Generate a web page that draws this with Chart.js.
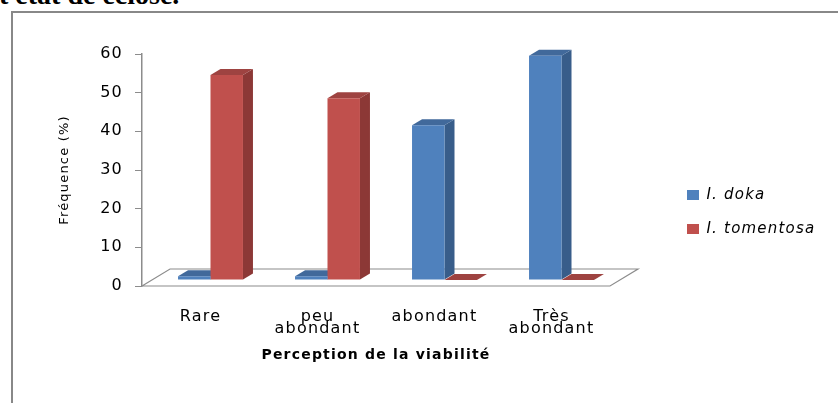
<!DOCTYPE html>
<html>
<head>
<meta charset="utf-8">
<script src="https://cdn.jsdelivr.net/npm/chart.js@4.4.0/dist/chart.umd.min.js"></script>
<style>
  html, body { margin: 0; padding: 0; background: #fff; width: 838px; height: 403px; overflow: hidden; }
  #caption { position: absolute; left: -1px; top: -19px; font: bold 28px "Liberation Serif"; line-height: 28px; white-space: nowrap; color: #000; }
  #frame { position: absolute; left: 11px; top: 11px; width: 840px; height: 400px; border-left: 2px solid #888; border-top: 2px solid #888; }
  #wrap { position: absolute; left: 0; top: 0; width: 838px; height: 403px; }
</style>
</head>
<body>
<div id="caption">t état de éclose.</div>
<div id="frame"></div>
<div id="wrap"><canvas id="chart" width="838" height="403"></canvas></div>
<script>
// data
const categories = [['Rare'], ['peu', 'abondant'], ['abondant'], ['Très', 'abondant']];
const dokaValues = [1, 1, 40, 58];
const tomentosaValues = [53, 47, 0, 0];
const yTicks = [0, 10, 20, 30, 40, 50, 60];

const FONT = 'DejaVu Sans';
const SPACING = '1.2px';               // the original text is stretched sideways
const depth = { dx: 10, dy: -6 };       // bar depth
const floorDepth = { dx: 28, dy: -17 }; // floor depth
const LEGEND_WIDTH = 170;

// fake 3d: floor + side/top faces, bars pushed back a bit
const bar3d = {
  id: 'bar3d',
  beforeUpdate(chart) {
    chart.ctx.letterSpacing = SPACING;
    const legend = chart.legend;
    if (legend && !legend._fixedWidth) {
      // measureText ignores the letter spacing, so the legend comes out too narrow
      const fit = legend.fit;
      legend.fit = function () {
        fit.call(this);
        this.width = LEGEND_WIDTH;
      };
      legend._fixedWidth = true;
    }
  },
  beforeDraw(chart) {
    chart.ctx.letterSpacing = SPACING;
  },
  beforeDatasetsDraw(chart) {
    const { ctx } = chart;
    const x = chart.scales.x, y = chart.scales.y;
    const y0 = y.getPixelForValue(0);

    ctx.save();
    ctx.strokeStyle = '#8c8c8c';
    ctx.lineWidth = 1.2;
    ctx.beginPath();
    ctx.moveTo(x.left, y0);
    ctx.lineTo(x.left + floorDepth.dx, y0 + floorDepth.dy);
    ctx.lineTo(x.right + floorDepth.dx, y0 + floorDepth.dy);
    ctx.lineTo(x.right, y0);
    ctx.closePath();
    ctx.stroke();
    ctx.restore();

    ctx.save();
    ctx.translate(depth.dx, depth.dy);
    chart.data.datasets.forEach((ds, i) => {
      chart.getDatasetMeta(i).data.forEach(el => {
        const p = el.getProps(['x', 'y', 'base', 'width'], true);
        const l = p.x - p.width / 2, r = p.x + p.width / 2;
        ctx.fillStyle = ds.sideColor;
        ctx.beginPath();
        ctx.moveTo(r, p.y);
        ctx.lineTo(r + depth.dx, p.y + depth.dy);
        ctx.lineTo(r + depth.dx, p.base + depth.dy);
        ctx.lineTo(r, p.base);
        ctx.closePath();
        ctx.fill();
        ctx.fillStyle = ds.topColor;
        ctx.beginPath();
        ctx.moveTo(l, p.y);
        ctx.lineTo(l + depth.dx, p.y + depth.dy);
        ctx.lineTo(r + depth.dx, p.y + depth.dy);
        ctx.lineTo(r, p.y);
        ctx.closePath();
        ctx.fill();
      });
    });
  },
  afterDatasetsDraw(chart) {
    chart.ctx.restore();
  }
};

new Chart(document.getElementById('chart'), {
  type: 'bar',
  data: {
    labels: categories,
    datasets: [
      {
        label: 'I. doka',
        data: dokaValues,
        backgroundColor: '#4f81bd',
        sideColor: '#385d8a',
        topColor: '#41699b',
        borderWidth: 0
      },
      {
        label: 'I. tomentosa',
        data: tomentosaValues,
        backgroundColor: '#c0504d',
        sideColor: '#8c3836',
        topColor: '#9e4341',
        borderWidth: 0
      }
    ]
  },
  options: {
    responsive: false,
    animation: false,
    layout: { padding: { top: 54, bottom: 33, left: 0, right: 0 } },
    datasets: { bar: { categoryPercentage: 0.555, barPercentage: 1.0 } },
    plugins: {
      tooltip: { enabled: false },
      legend: {
        position: 'right',
        align: 'center',
        labels: {
          boxWidth: 12,
          boxHeight: 10,
          padding: 19,
          color: '#000',
          font: { family: FONT, size: 15, style: 'italic' }
        }
      }
    },
    scales: {
      x: {
        grid: { display: false, drawTicks: false },
        border: { display: false },
        ticks: {
          color: '#000',
          padding: 24,
          maxRotation: 0,
          autoSkip: false,
          font: { family: FONT, size: 16, lineHeight: 0.8 }
        },
        title: {
          display: true,
          text: 'Perception de la viabilité',
          color: '#000',
          font: { family: FONT, size: 14, weight: 'bold' },
          padding: { top: 0, bottom: 6 }
        },
        afterFit(scale) { scale.height = 84; }
      },
      y: {
        min: 0,
        max: 60,
        afterBuildTicks(scale) { scale.ticks = yTicks.map(v => ({ value: v })); },
        ticks: { color: '#000', padding: 12, font: { family: FONT, size: 16 } },
        grid: { drawOnChartArea: false, tickLength: 7, color: '#8c8c8c' },
        border: { color: '#8c8c8c', width: 1.5 },
        title: {
          display: true,
          text: 'Fréquence (%)',
          color: '#000',
          font: { family: FONT, size: 13 },
          padding: { top: 57, bottom: 0 }
        },
        afterFit(scale) { scale.width = 142; }
      },
      // empty axis, just keeps a gap between the floor and the legend
      y2: {
        position: 'right',
        ticks: { display: false },
        grid: { display: false },
        border: { display: false },
        afterFit(scale) { scale.width = 58; }
      }
    }
  },
  plugins: [bar3d]
});
</script>
</body>
</html>
